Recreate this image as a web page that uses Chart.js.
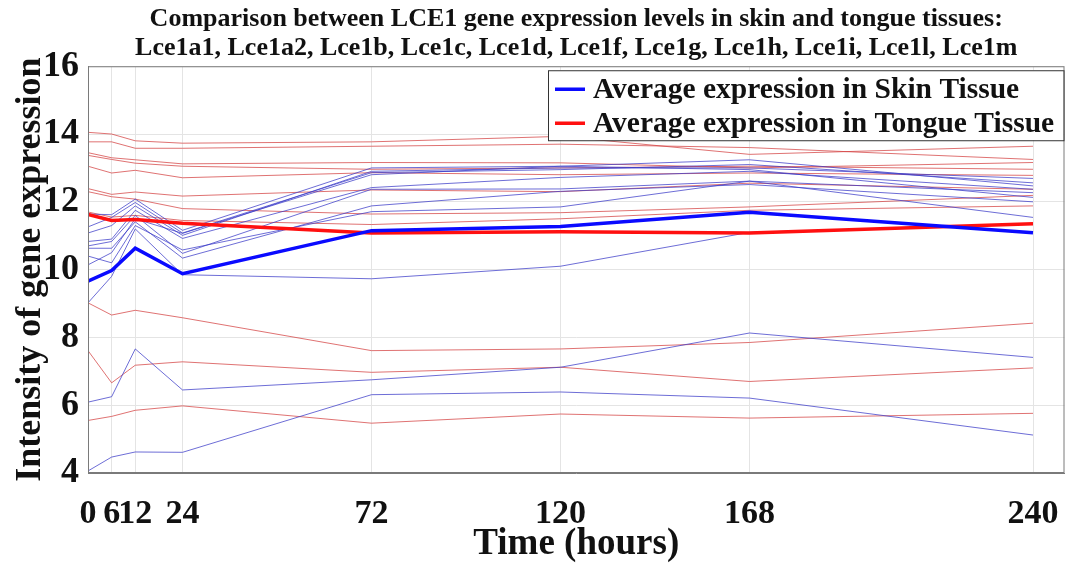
<!DOCTYPE html>
<html>
<head>
<meta charset="utf-8">
<script src="https://cdn.jsdelivr.net/npm/chart.js@4.4.0/dist/chart.umd.min.js"></script>
<style>
html, body { margin: 0; padding: 0; background: #fff; }
</style>
</head>
<body>
<canvas id="mycanvas" width="1080" height="567"></canvas>
<script>
// time points (hours)
var hours = [0, 6, 12, 24, 72, 120, 168, 240];
var xTicks = [0, 6, 12, 24, 72, 120, 168, 240];
var yTicks = [4, 6, 8, 10, 12, 14, 16];
var genes = ['Lce1a1', 'Lce1a2', 'Lce1b', 'Lce1c', 'Lce1d', 'Lce1f', 'Lce1g', 'Lce1h', 'Lce1i', 'Lce1l', 'Lce1m'];

// averages
var skinAvg = [9.66, 9.97, 10.63, 9.88, 11.15, 11.27, 11.69, 11.09];
var tongueAvg = [11.63, 11.45, 11.48, 11.37, 11.08, 11.12, 11.08, 11.35];

// single genes, skin tissue
var skinGenes = [
  [11.64, 11.62, 12.08, 11.16, 13.00, 13.05, 13.24, 12.47],
  [11.26, 11.54, 11.98, 11.08, 12.86, 12.95, 13.10, 12.56],
  [11.08, 11.30, 11.88, 11.01, 12.90, 13.00, 13.00, 12.69],
  [10.83, 10.90, 11.75, 10.92, 12.42, 12.72, 12.90, 12.37],
  [10.70, 10.83, 11.60, 10.48, 12.37, 12.38, 12.61, 12.27],
  [10.63, 10.63, 11.41, 10.34, 11.88, 12.31, 12.51, 12.00],
  [10.40, 10.20, 11.30, 10.58, 11.71, 11.85, 12.61, 11.54],
  [10.14, 10.50, 11.50, 11.07, 12.80, 13.05, 12.95, 12.13],
  [9.02, 9.80, 11.20, 9.85, 9.73, 10.10, 11.10, 11.35],
  [6.09, 6.25, 7.66, 6.45, 6.75, 7.12, 8.13, 7.41],
  [4.06, 4.47, 4.62, 4.61, 6.31, 6.39, 6.21, 5.12]
];

// single genes, tongue tissue
var tongueGenes = [
  [14.05, 14.00, 13.80, 13.73, 13.77, 13.93, 13.40, 13.64],
  [13.77, 13.77, 13.58, 13.58, 13.64, 13.70, 13.60, 13.25],
  [13.45, 13.30, 13.24, 13.12, 13.16, 13.15, 13.00, 13.16],
  [13.37, 13.25, 13.14, 13.05, 12.96, 13.00, 13.05, 12.96],
  [13.05, 12.85, 12.93, 12.71, 12.86, 12.80, 12.85, 12.78],
  [12.39, 12.22, 12.29, 12.17, 12.35, 12.30, 12.55, 12.37],
  [12.30, 12.15, 12.08, 11.80, 11.64, 11.68, 11.85, 12.19],
  [11.70, 11.55, 11.60, 11.45, 11.33, 11.50, 11.75, 11.88],
  [9.02, 8.66, 8.80, 8.58, 7.61, 7.66, 7.85, 8.42],
  [7.61, 6.66, 7.18, 7.28, 6.97, 7.12, 6.70, 7.10],
  [5.55, 5.67, 5.85, 5.98, 5.47, 5.74, 5.62, 5.76]
];

function pts(vals) {
  var out = [];
  for (var i in hours) {
    out.push({ x: hours[i], y: vals[i] });
  }
  return out;
}

var datasets = [];
for (var i in skinGenes) {
  datasets.push({
    label: genes[i] + ' skin',
    data: pts(skinGenes[i]),
    borderColor: 'rgba(60,60,200,0.75)',
    borderWidth: 1,
    order: 2
  });
}
for (var j in tongueGenes) {
  datasets.push({
    label: genes[j] + ' tongue',
    data: pts(tongueGenes[j]),
    borderColor: 'rgba(210,60,60,0.72)',
    borderWidth: 1,
    order: 2
  });
}
datasets.push({
  label: 'Average expression in Skin Tissue',
  data: pts(skinAvg),
  borderColor: '#0a0aff',
  borderWidth: 3.5,
  order: 0,
  inLegend: true
});
datasets.push({
  label: 'Average expression in Tongue Tissue',
  data: pts(tongueAvg),
  borderColor: '#ff1010',
  borderWidth: 3.5,
  order: 0,
  inLegend: true
});

var serif = '"Liberation Serif", "Times New Roman", serif';

// frame around the plot + boxed legend in the top right corner
var boxLegend = {
  id: 'boxLegend',
  afterDraw: function(chart) {
    var ctx = chart.ctx;
    var a = chart.chartArea;
    ctx.save();
    ctx.strokeStyle = '#7a7a7a';
    ctx.lineWidth = 1;
    ctx.strokeRect(a.left + 0.5, a.top + 0.5, a.right - a.left - 1, a.bottom - a.top - 1);

    var x0 = 548, y0 = a.top + 4, w = a.right - 1 - x0, h = 70;
    ctx.fillStyle = '#fff';
    ctx.fillRect(x0, y0, w, h);
    ctx.strokeStyle = '#333';
    ctx.strokeRect(x0 + 0.5, y0 + 0.5, w, h);

    var rows = chart.data.datasets.filter(function(d) { return d.inLegend; });
    ctx.font = 'bold 29.5px ' + serif;
    ctx.textBaseline = 'middle';
    ctx.textAlign = 'left';
    for (var k = 0; k < rows.length; k++) {
      var yy = y0 + 19 + k * 34;
      ctx.strokeStyle = rows[k].borderColor;
      ctx.lineWidth = 3.5;
      ctx.beginPath();
      ctx.moveTo(x0 + 7, yy);
      ctx.lineTo(x0 + 37, yy);
      ctx.stroke();
      ctx.fillStyle = '#111';
      ctx.fillText(rows[k].label, x0 + 45, yy + 1);
    }
    ctx.restore();
  }
};

var ctx = document.getElementById('mycanvas');
var lineGraph = new Chart(ctx, {
  type: 'line',
  data: { datasets: datasets },
  plugins: [boxLegend],
  options: {
    responsive: false,
    animation: false,
    layout: { padding: { top: 0, right: 12, left: 0, bottom: 0 } },
    elements: { point: { radius: 0 }, line: { tension: 0 } },
    plugins: {
      legend: { display: false },
      tooltip: { enabled: false },
      title: {
        display: true,
        fullSize: false,
        text: ['Comparison between LCE1 gene expression levels in skin and tongue tissues:',
               'Lce1a1, Lce1a2, Lce1b, Lce1c, Lce1d, Lce1f, Lce1g, Lce1h, Lce1i, Lce1l, Lce1m'],
        color: '#111',
        font: { family: serif, size: 26, weight: 'bold', lineHeight: 1.12 },
        padding: { top: 5, bottom: 3 }
      }
    },
    scales: {
      x: {
        type: 'linear',
        min: 0,
        max: 248,
        afterBuildTicks: function(scale) {
          scale.ticks = xTicks.map(function(v) { return { value: v }; });
        },
        afterFit: function(scale) { scale.height = 94; },
        grid: { color: '#e4e4e4', drawTicks: false },
        border: { color: '#7a7a7a' },
        ticks: {
          autoSkip: false,
          maxRotation: 0,
          padding: 21,
          color: '#111',
          font: { family: serif, size: 34, weight: 'bold' }
        },
        title: {
          display: true,
          text: 'Time (hours)',
          color: '#111',
          font: { family: serif, size: 37, weight: 'bold' },
          padding: { top: 0, bottom: 0 }
        }
      },
      y: {
        min: 4,
        max: 16,
        afterBuildTicks: function(scale) {
          scale.ticks = yTicks.map(function(v) { return { value: v }; });
        },
        afterFit: function(scale) { scale.width = 88; },
        grid: { color: '#e4e4e4', drawTicks: false },
        border: { color: '#7a7a7a' },
        ticks: {
          padding: 9,
          color: '#111',
          font: { family: serif, size: 36, weight: 'bold' }
        },
        title: {
          display: true,
          text: 'Intensity of gene expression',
          color: '#111',
          font: { family: serif, size: 36, weight: 'bold' },
          padding: { top: 9, bottom: 0 }
        }
      }
    }
  }
});
</script>
</body>
</html>
